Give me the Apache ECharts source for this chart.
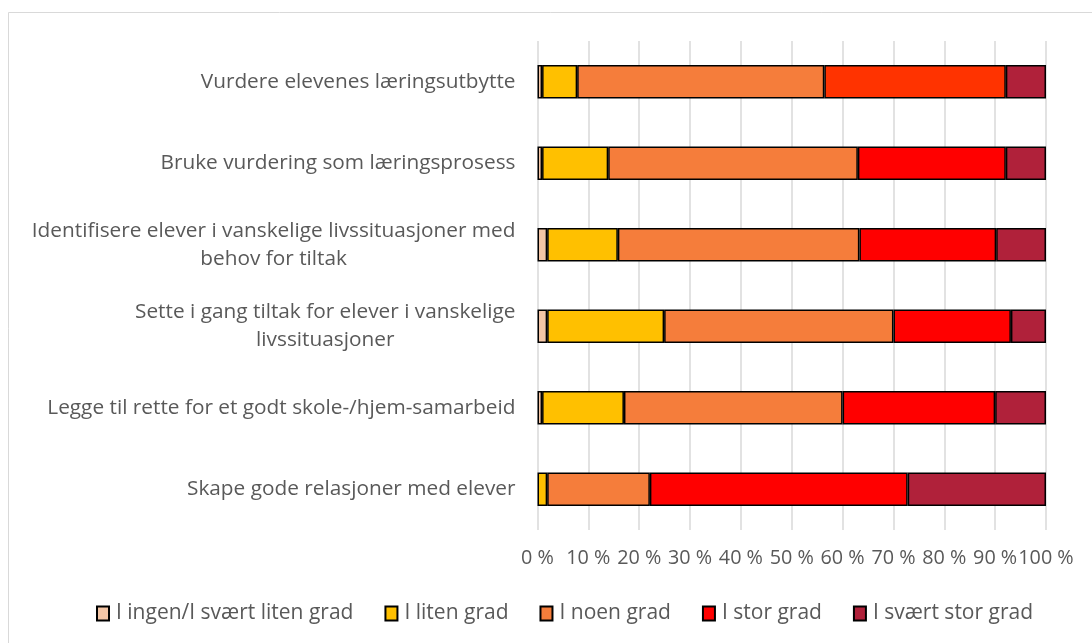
<!DOCTYPE html>
<html>
<head>
<meta charset="utf-8">
<script src="https://cdn.jsdelivr.net/npm/echarts@6/dist/echarts.min.js"></script>
<style>
html,body{margin:0;padding:0;background:#fff;}
#chart{width:1092px;height:643px;}
</style>
</head>
<body>
<div id="chart"></div>
<script>
const categories = [
  'Vurdere elevenes læringsutbytte',
  'Bruke vurdering som læringsprosess',
  'Identifisere elever i vanskelige livssituasjoner med\nbehov for tiltak',
  'Sette i gang tiltak for elever i vanskelige\nlivssituasjoner',
  'Legge til rette for et godt skole-/hjem-samarbeid',
  'Skape gode relasjoner med elever'
];
const seriesNames = ['I ingen/I svært liten grad', 'I liten grad', 'I noen grad', 'I stor grad', 'I svært stor grad'];
const ingen     = [0.9, 0.9, 1.9, 1.9, 0.9, 0];
const liten     = [6.9, 13.0, 13.9, 23.0, 16.1, 1.9];
const noen      = [48.6, 49.1, 47.5, 45.1, 43.0, 20.2];
const stor      = [35.7, 29.1, 26.9, 23.1, 30.0, 50.7];
const sværtStor = [7.9, 7.9, 9.8, 6.9, 10.0, 27.2];
const tickLabels = ['0 %','10 %','20 %','30 %','40 %','50 %','60 %','70 %','80 %','90 %','100 %'];
const colors = ['#F4C6A6', '#FFC000', '#F57D3B', '#FF0000', '#B0213A'];
const storTopColor = '#FF3300';

const values = [ingen, liten, noen, stor, sværtStor];
const FONT = '"Open Sans"';
const TXT = '#595959';

const series = values.map((arr, si) => ({
  name: seriesNames[si],
  type: 'bar',
  stack: 'total',
  barCategoryGap: '59%',
  itemStyle: { color: colors[si], borderColor: '#000', borderWidth: 1.5 },
  data: arr.map((v, i) => {
    if (v === 0) return '-';
    if (si === 3 && i === 0) return { value: v, itemStyle: { color: storTopColor } };
    return v;
  })
}));

const chart = echarts.init(document.getElementById('chart'), null, { renderer: 'canvas' });
chart.setOption({
  animation: false,
  backgroundColor: '#fff',
  textStyle: { fontFamily: FONT },
  graphic: [{
    type: 'rect', shape: { x: 8.5, y: 12.5, width: 1200, height: 800 },
    style: { fill: 'none', stroke: '#d9d9d9', lineWidth: 1 }, silent: true, z: -10
  }],
  grid: { left: 537.5, right: 46, top: 41, bottom: 113, containLabel: false },
  legend: {
    left: 96, top: 603, padding: 0,
    itemWidth: 12, itemHeight: 14, itemGap: 31,
    icon: 'rect',
    textStyle: { color: TXT, fontSize: 21, fontFamily: FONT, padding: [0, 0, 0, 2] },
    data: seriesNames
  },
  xAxis: {
    type: 'value', min: 0, max: 100, interval: 10,
    axisLine: { show: false }, axisTick: { show: false },
    splitLine: { lineStyle: { color: '#d9d9d9', width: 1.5 } },
    axisLabel: {
      color: TXT, fontSize: 19.8, fontFamily: FONT, margin: 18,
      formatter: (v) => tickLabels[Math.round(v / 10)]
    }
  },
  yAxis: {
    type: 'category', inverse: true, data: categories,
    axisLine: { show: false }, axisTick: { show: false },
    axisLabel: {
      margin: 22, align: 'right',
      formatter: (v) => v.split('\n').map(l => '{c|' + l + '}').join('\n'),
      rich: { c: { align: 'center', color: TXT, fontSize: 20.8, fontFamily: FONT, lineHeight: 28 } }
    }
  },
  series: series
});
</script>
</body>
</html>
